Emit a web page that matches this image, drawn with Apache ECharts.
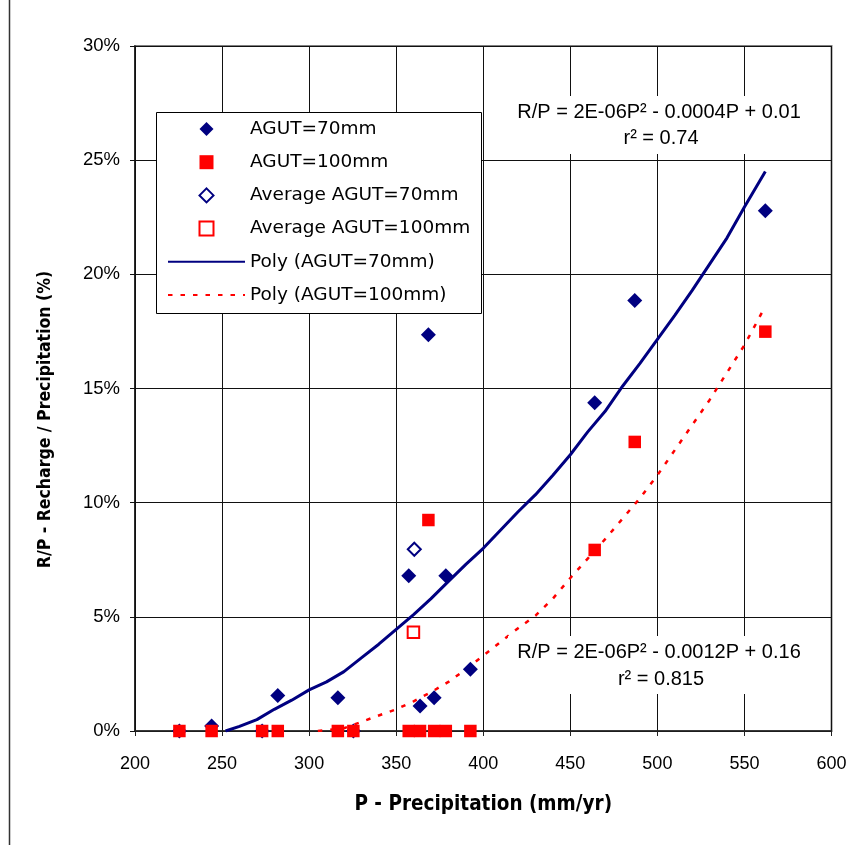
<!DOCTYPE html>
<html>
<head>
<meta charset="utf-8">
<script src="https://cdn.jsdelivr.net/npm/echarts@6/dist/echarts.min.js"></script>
<style>
html,body{margin:0;padding:0;background:#fff;}
#chart{width:851px;height:845px;}
</style>
</head>
<body>
<div id="chart"></div>
<script>
// ---- Data ----
const precip = [225.5, 244, 273, 282, 316.5, 325.4, 357.2, 363.7, 368.5, 371.8, 378.5, 392.6, 464, 487, 562];
const rp70  = [0, 0.22, 0, 1.55, 1.46, 0, 6.8, 1.1, 17.35, 1.46, 6.8, 2.7, 14.38, 18.85, 22.79];
const rp100 = [0, 0, 0, 0, 0, 0, 0, 0, 9.24, 0, 0, 0, 7.93, 12.66, 17.49];

const avgP70 = [360.4];
const avgRP70 = [7.96];
const avgP100 = [359.9];
const avgRP100 = [4.32];

const polyP70  = [252,260,270,280,290,300,310,320,330,340,350,360,370,380,390,400,410,420,430,440,450,460,470,480,490,500,510,520,530,540,550,562];
const polyRP70 = [0,0.2,0.5,0.95,1.35,1.8,2.15,2.6,3.2,3.8,4.45,5.1,5.8,6.55,7.3,8.0,8.8,9.6,10.35,11.2,12.1,13.1,14.0,15.1,16.1,17.15,18.2,19.3,20.45,21.6,22.95,24.5];

const polyP100  = [305,320,330,340,350,360,370,380,390,400,410,420,430,440,450,460,470,480,490,500,510,520,530,540,550,562];
const polyRP100 = [0,0.12,0.4,0.68,0.95,1.3,1.7,2.15,2.7,3.3,3.9,4.5,5.05,5.8,6.7,7.55,8.4,9.3,10.2,11.2,12.3,13.4,14.5,15.7,16.9,18.6];

const xTicks = {min: 200, max: 600, interval: 50};
const yTicks = {min: 0, max: 30, interval: 5};

const seriesNames = ['AGUT=70mm', 'AGUT=100mm', 'Average AGUT=70mm', 'Average AGUT=100mm', 'Poly (AGUT=70mm)', 'Poly (AGUT=100mm)'];
const eq70 = ['R/P = 2E-06P\u00B2 - 0.0004P + 0.01', 'r\u00B2 = 0.74'];
const eq100 = ['R/P = 2E-06P\u00B2 - 0.0012P + 0.16', 'r\u00B2 = 0.815'];
const xTitle = 'P - Precipitation (mm/yr)';
const yTitle = 'R/P - Recharge / Precipitation (%)';

// ---- Build ----
const zip = (a, b) => a.map((v, i) => [v, b[i]]);
const NAVY = '#000080', RED = '#ff0000';
const narrowBold = "'Liberation Sans Narrow', 'DejaVu Sans Condensed', 'Liberation Sans', Arial, sans-serif";
const sans = "'Liberation Sans', Arial, sans-serif";
const DIAMOND = 'path://M0,-1L1,0L0,1L-1,0Z';
const SQUARE = 'path://M-1,-1L1,-1L1,1L-1,1Z';

const chart = echarts.init(document.getElementById('chart'), null, {renderer: 'canvas'});
chart.setOption({
  backgroundColor: '#fff',
  animation: false,
  grid: {left: 135, right: 19.5, top: 46, bottom: 114, show: true, borderColor: '#808080', borderWidth: 2, backgroundColor: 'transparent'},
  xAxis: {
    type: 'value', min: xTicks.min, max: xTicks.max, interval: xTicks.interval,
    name: xTitle, nameLocation: 'middle', nameGap: 63,
    nameTextStyle: {fontFamily: narrowBold, fontWeight: 'bold', fontSize: 20.5, color: '#000'},
    axisLine: {show: true, onZero: false, lineStyle: {color: '#222', width: 1.5}},
    axisTick: {show: true, inside: false, length: 5, lineStyle: {color: '#222'}},
    axisLabel: {margin: 24, fontFamily: sans, fontSize: 18, color: '#000'},
    splitLine: {show: true, lineStyle: {color: '#111', width: 1}}
  },
  yAxis: {
    type: 'value', min: yTicks.min, max: yTicks.max, interval: yTicks.interval,
    name: yTitle, nameLocation: 'middle', nameGap: 81, nameRotate: 90,
    nameTextStyle: {fontFamily: narrowBold, fontWeight: 'bold', fontSize: 17.5, color: '#000', padding: [0, 62, 0, 0]},
    axisLine: {show: true, onZero: false, lineStyle: {color: '#111', width: 1.5}},
    axisTick: {show: true, inside: false, length: 5, lineStyle: {color: '#111'}},
    axisLabel: {margin: 15, fontFamily: sans, fontSize: 18.5, color: '#000', formatter: '{value}%'},
    splitLine: {show: true, lineStyle: {color: '#111', width: 1}}
  },
  legend: {
    data: [
      {name: seriesNames[0], icon: DIAMOND},
      {name: seriesNames[1], icon: SQUARE},
      {name: seriesNames[2], icon: DIAMOND},
      {name: seriesNames[3], icon: SQUARE},
      {name: seriesNames[4], itemStyle: {opacity: 0}},
      {name: seriesNames[5], itemStyle: {opacity: 0}}
    ],
    orient: 'vertical', left: 167, top: 119.5, padding: 0,
    itemWidth: 77, itemHeight: 14, itemGap: 14.2, itemTextGap: 6,
    symbolKeepAspect: true,
    textStyle: {fontFamily: "'DejaVu Sans', sans-serif", fontSize: 18.5, lineHeight: 18, color: '#000'},
    z: 6
  },
  graphic: [
    {type: 'rect', z: 5, shape: {x: 156.5, y: 112.5, width: 325, height: 201}, style: {fill: '#fff', stroke: '#000', lineWidth: 1}},
    {type: 'rect', z: 5, shape: {x: 508, y: 96, width: 304, height: 58}, style: {fill: '#fff'}},
    {type: 'rect', z: 5, shape: {x: 508, y: 636, width: 304, height: 58}, style: {fill: '#fff'}},
    {type: 'text', z: 6, x: 659, y: 112, style: {text: eq70[0], fontFamily: sans, fontSize: 20, fill: '#000', align: 'center', verticalAlign: 'middle'}},
    {type: 'text', z: 6, x: 661, y: 138, style: {text: eq70[1], fontFamily: sans, fontSize: 20, fill: '#000', align: 'center', verticalAlign: 'middle'}},
    {type: 'text', z: 6, x: 659, y: 652, style: {text: eq100[0], fontFamily: sans, fontSize: 20, fill: '#000', align: 'center', verticalAlign: 'middle'}},
    {type: 'text', z: 6, x: 661, y: 679, style: {text: eq100[1], fontFamily: sans, fontSize: 20, fill: '#000', align: 'center', verticalAlign: 'middle'}},
    {type: 'line', z: 10, shape: {x1: 9.5, y1: 0, x2: 9.5, y2: 845}, style: {stroke: '#333', lineWidth: 1.5}}
  ],
  series: [
    {name: seriesNames[4], type: 'line', z: 2, data: zip(polyP70, polyRP70), showSymbol: false, symbol: 'none',
     lineStyle: {color: NAVY, width: 3}, itemStyle: {color: NAVY}, clip: true},
    {name: seriesNames[5], type: 'line', z: 2, data: zip(polyP100, polyRP100), showSymbol: false, symbol: 'none',
     lineStyle: {color: RED, width: 2.5, type: [4.5, 8]}, itemStyle: {color: RED}, clip: true},
    {name: seriesNames[0], type: 'scatter', z: 3, data: zip(precip, rp70), symbol: 'diamond', symbolSize: 15,
     itemStyle: {color: NAVY, opacity: 1}},
    {name: seriesNames[1], type: 'scatter', z: 3, data: zip(precip, rp100), symbol: 'rect', symbolSize: 12.5,
     itemStyle: {color: RED, opacity: 1}},
    {name: seriesNames[2], type: 'scatter', z: 3, data: zip(avgP70, avgRP70), symbol: 'diamond', symbolSize: 13,
     itemStyle: {color: '#fff', borderColor: NAVY, borderWidth: 2, opacity: 1}},
    {name: seriesNames[3], type: 'scatter', z: 3, data: zip(avgP100, avgRP100), symbol: 'rect', symbolSize: 11.5,
     itemStyle: {color: '#fff', borderColor: RED, borderWidth: 2, opacity: 1}}
  ]
});
</script>
</body>
</html>
